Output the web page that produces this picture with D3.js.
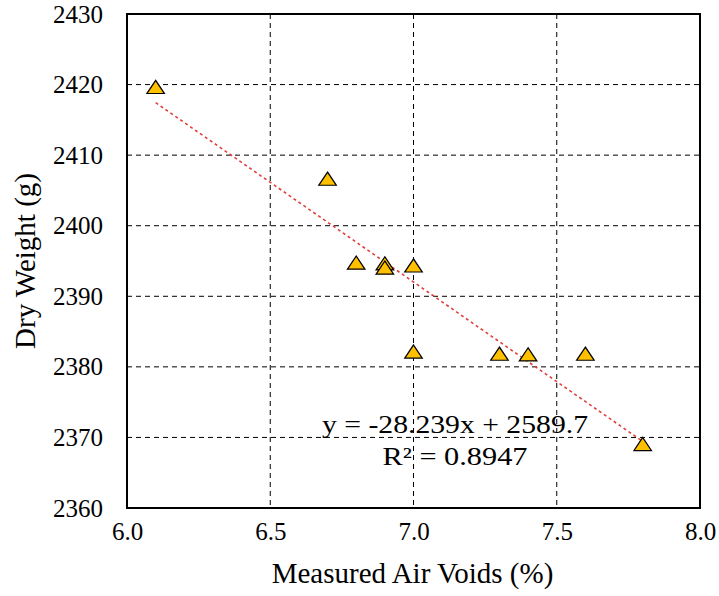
<!DOCTYPE html>
<html>
<head>
<meta charset="utf-8">
<script src="https://cdn.jsdelivr.net/npm/d3@7"></script>
<style>
  body { margin: 0; background: #fff; }
  text { font-family: "Liberation Serif", "Times New Roman", serif; fill: #000; }
</style>
</head>
<body>
<div id="chart"></div>
<script>
// measured points
var airVoids  = [6.1, 6.7, 6.8, 6.9, 6.9, 7.0, 7.0, 7.3, 7.4, 7.6, 7.8];
var dryWeight = [2419.5, 2406.5, 2394.6, 2394.5, 2393.9, 2394.2, 2382.0, 2381.7, 2381.6, 2381.7, 2368.9];
var xTicks = [6.0, 6.5, 7.0, 7.5, 8.0];
var yTicks = [2360, 2370, 2380, 2390, 2400, 2410, 2420, 2430];
var slope = -28.239, intercept = 2589.7;
var eqLines = ["y = -28.239x + 2589.7", "R² = 0.8947"];

var W = 719, H = 596;
var pLeft = 127, pRight = 700, pTop = 14, pBottom = 508;

var svg = d3.select("#chart").append("svg")
    .attr("width", W).attr("height", H);

var x = d3.scaleLinear().domain([6, 8]).range([pLeft, pRight]);
var y = d3.scaleLinear().domain([2360, 2430]).range([pBottom, pTop]);

// grid
svg.append("g").selectAll("line").data(xTicks.slice(1, -1)).join("line")
    .attr("x1", d => x(d)).attr("x2", d => x(d))
    .attr("y1", pTop).attr("y2", pBottom)
    .attr("stroke", "#000").attr("stroke-width", 1).attr("stroke-dasharray", "5,4");
svg.append("g").selectAll("line").data(yTicks.slice(1, -1)).join("line")
    .attr("x1", pLeft).attr("x2", pRight)
    .attr("y1", d => y(d)).attr("y2", d => y(d))
    .attr("stroke", "#000").attr("stroke-width", 1).attr("stroke-dasharray", "5,4");

// frame
svg.append("rect")
    .attr("x", pLeft).attr("y", pTop)
    .attr("width", pRight - pLeft).attr("height", pBottom - pTop)
    .attr("fill", "none").attr("stroke", "#000").attr("stroke-width", 2);

// axes labels
var xAxis = d3.axisBottom(x).tickValues(xTicks).tickFormat(d3.format(".1f")).tickSize(0).tickPadding(14);
var gx = svg.append("g").attr("transform", "translate(0," + pBottom + ")").call(xAxis);
gx.select(".domain").remove();
gx.selectAll("text").attr("font-size", 25).attr("font-family", "Liberation Serif").attr("fill", "#000");

var yAxis = d3.axisLeft(y).tickValues(yTicks).tickFormat(d3.format("d")).tickSize(0).tickPadding(24);
var gy = svg.append("g").attr("transform", "translate(" + pLeft + ",0)").call(yAxis);
gy.select(".domain").remove();
gy.selectAll("text").attr("font-size", 25).attr("font-family", "Liberation Serif").attr("fill", "#000");

// trendline
var x0 = d3.min(airVoids), x1 = d3.max(airVoids);
svg.append("line")
    .attr("x1", x(x0)).attr("y1", y(slope * x0 + intercept))
    .attr("x2", x(x1)).attr("y2", y(slope * x1 + intercept))
    .attr("stroke", "#e0403c").attr("stroke-width", 1.6).attr("stroke-dasharray", "3,3");

// markers
var tri = d3.symbol().type(d3.symbolTriangle).size(110);
svg.append("g").selectAll("path").data(airVoids).join("path")
    .attr("d", tri)
    .attr("transform", (d, i) => "translate(" + x(d) + "," + (y(dryWeight[i]) + 1) + ") scale(1.1,0.95)")
    .attr("fill", "#ffc000").attr("stroke", "#000").attr("stroke-width", 1.2);

// equation
svg.append("text").attr("x", 455).attr("y", 433).attr("text-anchor", "middle")
    .attr("font-size", 25).attr("textLength", 266).attr("lengthAdjust", "spacingAndGlyphs")
    .text(eqLines[0]);
svg.append("text").attr("x", 455).attr("y", 465).attr("text-anchor", "middle")
    .attr("font-size", 25).attr("textLength", 145).attr("lengthAdjust", "spacingAndGlyphs")
    .text(eqLines[1]);

// titles
svg.append("text").attr("x", (pLeft + pRight) / 2 - 1).attr("y", 583).attr("text-anchor", "middle")
    .attr("font-size", 29).text("Measured Air Voids (%)");
svg.append("text").attr("transform", "translate(35,261) rotate(-90)").attr("text-anchor", "middle")
    .attr("font-size", 29).text("Dry Weight (g)");
</script>
</body>
</html>
